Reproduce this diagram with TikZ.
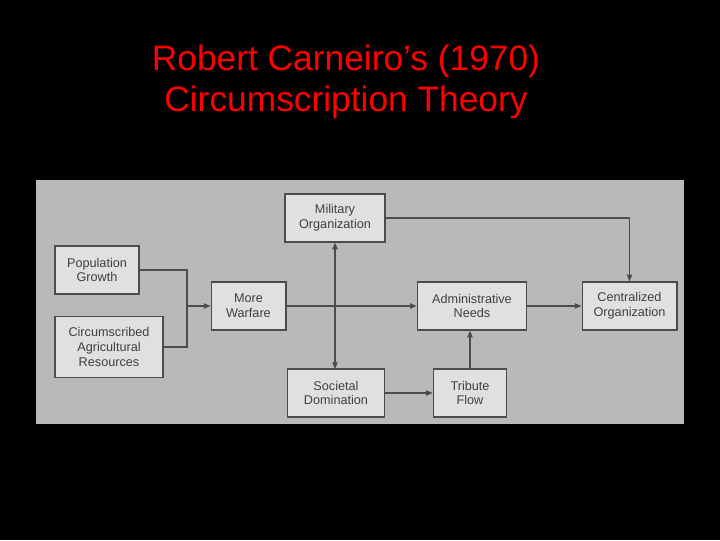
\documentclass[tikz,border=0pt]{standalone}
\usepackage{fontspec}
\setmainfont{Liberation Sans}
\usetikzlibrary{arrows.meta}
\begin{document}
\begin{tikzpicture}[x=0.75pt,y=-0.75pt,
  bx/.style={draw=black!70,fill=black!12,line width=1pt,minimum width=#1,minimum height=36pt,align=center,font=\fontsize{9.5}{11}\selectfont,text=black!75,inner sep=1pt},
  ln/.style={draw=black!70,line width=0.9pt},
  ar/.style={ln,-{Triangle[length=5pt,width=4pt]}}]
\fill[black] (0,0) rectangle (720,540);
\useasboundingbox (0,0) rectangle (720,540);
\fill[gray!55] (36,180) rectangle (684,424);
\node[text=red,font=\fontsize{26.5}{30.5}\selectfont,align=center] (title) at (346,82) {Robert Carneiro’s (1970)\\ Circumscription Theory};
\node[bx=75pt] (mil) at (335,218) {Military\\Organization};
\node[bx=63pt] (pop) at (97,270) {Population\\Growth};
\node[bx=81pt,minimum height=46pt] (cir) at (109,347) {Circumscribed\\Agricultural\\Resources};
\node[bx=56pt] (war) at (248.5,306) {More\\Warfare};
\node[bx=82pt] (adm) at (472,306) {Administrative\\Needs};
\node[bx=71pt] (cen) at (629.5,306) {Centralized\\Organization};
\node[bx=73pt] (soc) at (336,393) {Societal\\Domination};
\node[bx=55pt] (tri) at (470,393) {Tribute\\Flow};
\coordinate (j) at (187,306);
\draw[ln] (pop.east) -| (j);
\draw[ln] (cir.east) -| (j);
\draw[ar] (j) -- (war.west);
\draw[ar] (war.east) -- (adm.west);
\draw[ar] (335,306) -- (mil.south);
\draw[ar] (335,306) -- (335,369);
\draw[ar] (mil.east) -| (cen.north);
\draw[ar] (adm.east) -- (cen.west);
\draw[ar] (soc.east) -- (tri.west);
\draw[ar] (tri.north) -- (tri.north |- adm.south);
\end{tikzpicture}
\end{document}
